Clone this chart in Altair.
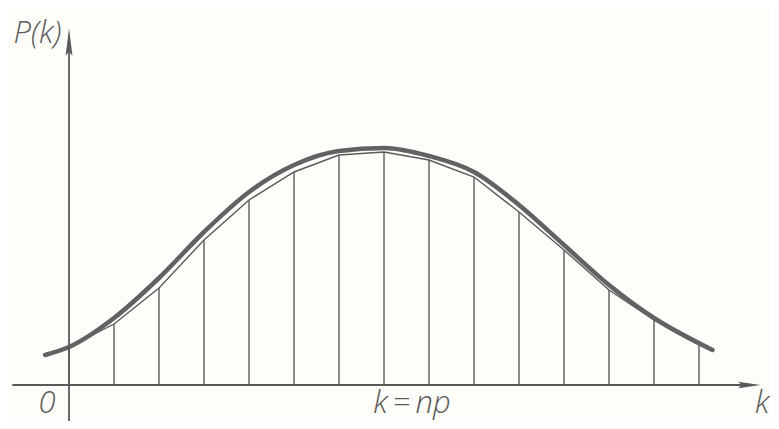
import altair as alt
import pandas as pd

# Binomial probabilities P(k) (arbitrary units) at k = 0..14
k_vals = list(range(15))
p_vals = [38, 61, 97, 145, 185, 213, 230, 233, 225, 208, 173, 135, 95, 65, 42]

# Smooth (normal) approximating curve
curve_k = [-0.53, 0, 1, 2, 3, 4, 5, 6, 7, 8, 9, 10, 11, 12, 13, 14.3]
curve_p = [30, 38, 67, 107, 153, 193, 220, 234, 237, 229, 213, 180, 140, 100, 67, 35]

labels_text = ["P(k)", "0", "k\u2009=\u2009np", "k"]
labels_k = [-0.7, -0.49, 7.62, 15.4]
labels_p = [342, -28, -28, -28]

XD = [-1.356, 15.6]
YD = [-36, 377]
INK = "#5a5a5a"

bars = pd.DataFrame({"k": k_vals, "p": p_vals, "z": [0] * 15})
curve = pd.DataFrame({"k": curve_k, "p": curve_p})
labels = pd.DataFrame({"t": labels_text, "k": labels_k, "p": labels_p})

x = alt.X("k:Q", scale=alt.Scale(domain=XD, nice=False, zero=False), axis=None)
y = alt.Y("p:Q", scale=alt.Scale(domain=YD, nice=False, zero=False), axis=None)

stems = alt.Chart(bars).mark_rule(color=INK, strokeWidth=1.4).encode(
    x=x, y=y, y2="z:Q"
)
poly = alt.Chart(bars).mark_line(color=INK, strokeWidth=1.4).encode(x=x, y=y)
smooth = alt.Chart(curve).mark_line(
    color="#626262", strokeWidth=4.5, interpolate="monotone", strokeCap="round"
).encode(x=x, y=y)

axes_df = pd.DataFrame({"k": [-1.26, 0], "k2": [15.2, 0], "p": [0, -36], "p2": [0, 345]})
axes = alt.Chart(axes_df).mark_rule(color=INK, strokeWidth=1.8).encode(
    x=x, x2="k2:Q", y=y, y2="p2:Q"
)

arr_x = alt.Chart(pd.DataFrame({"k": [15.12], "p": [0]})).mark_point(
    shape="M1,0L-1,-0.28L-0.7,0L-1,0.28Z", filled=True, size=500, color=INK, opacity=1
).encode(x=x, y=y)
arr_y = alt.Chart(pd.DataFrame({"k": [0], "p": [343]})).mark_point(
    shape="M0,-1L0.25,1L0,0.7L-0.25,1Z", filled=True, size=760, color=INK, opacity=1
).encode(x=x, y=y)

text = alt.Chart(labels).mark_text(
    font="Open Sans", fontStyle="italic", fontWeight=300, fontSize=31,
    color=INK, align="center", baseline="alphabetic"
).encode(x=x, y=y, text="t:N")

chart = alt.layer(stems, poly, smooth, axes, arr_x, arr_y, text).properties(
    width=763, height=413, padding=0, background="#fdfdf9",
    autosize=alt.AutoSizeParams(type="none")
).configure_view(stroke=None)

chart.save("out.html", embed_options={"renderer": "svg", "actions": False})
